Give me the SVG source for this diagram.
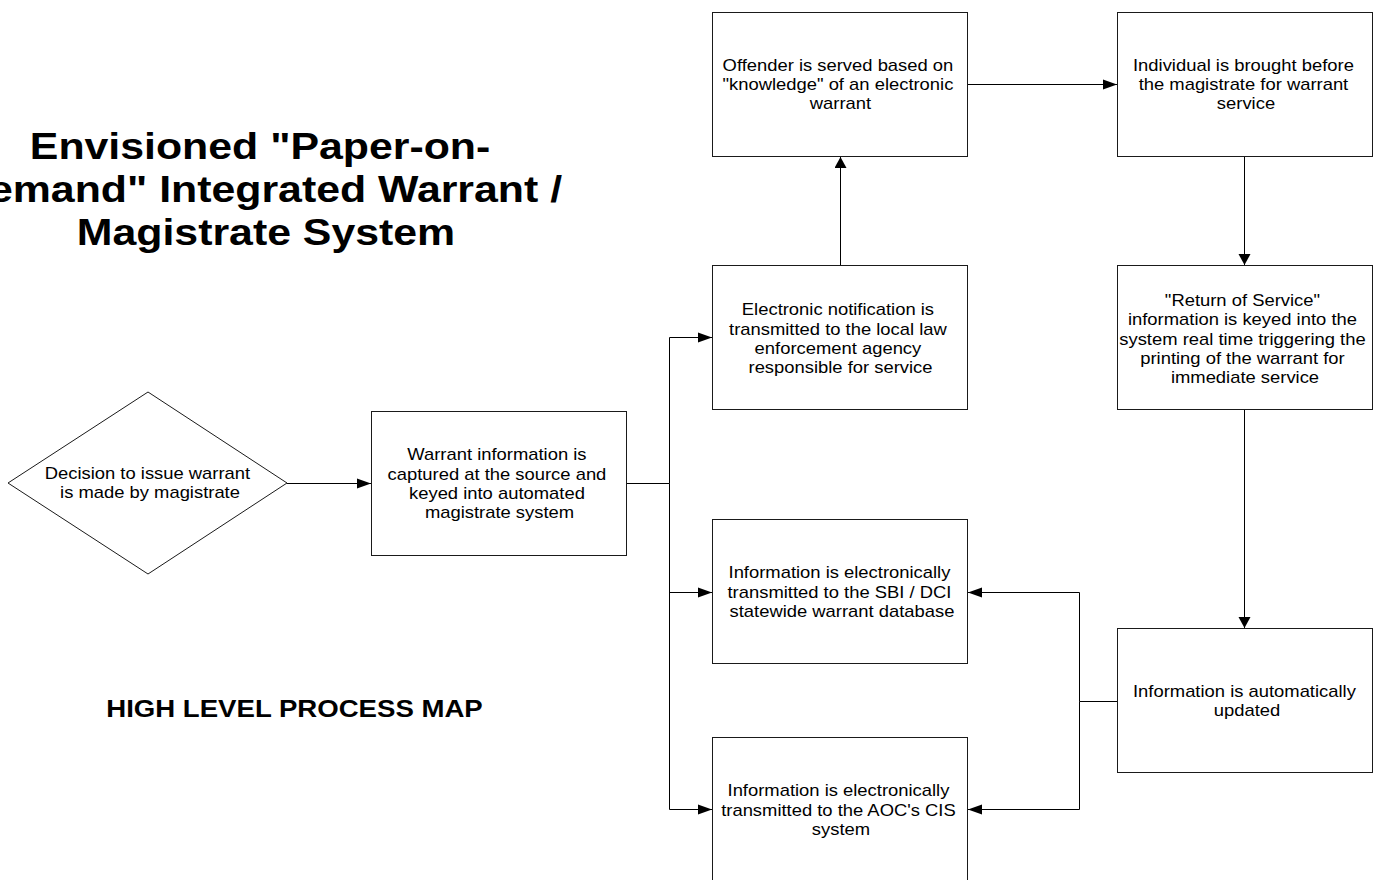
<svg xmlns="http://www.w3.org/2000/svg" width="1375" height="880" viewBox="0 0 1375 880">
  <style>
    .box { fill: #ffffff; stroke: #1a1a1a; stroke-width: 1; }
    .wire { fill: none; stroke: #000000; stroke-width: 1; }
    .lbl { font-family: "Liberation Sans", Arial, sans-serif; font-size: 16px; fill: #000000; text-anchor: middle; }
    .title { font-family: "Liberation Sans", Arial, sans-serif; font-size: 36px; font-weight: bold; fill: #000000; text-anchor: middle; }
    .sub { font-family: "Liberation Sans", Arial, sans-serif; font-size: 23px; font-weight: bold; fill: #000000; text-anchor: middle; }
  </style>
  <defs>
    <marker id="arrowH" markerUnits="userSpaceOnUse" markerWidth="15" markerHeight="12" refX="14" refY="5.5" orient="auto">
      <path d="M0,0.5 L14,5.5 L0,10.5 Z" fill="#000000"/>
    </marker>
    <marker id="arrowV" markerUnits="userSpaceOnUse" markerWidth="12" markerHeight="13" refX="11" refY="6" orient="auto">
      <path d="M0,0 L11,6 L0,12 Z" fill="#000000"/>
    </marker>
  </defs>

  <rect width="1375" height="880" fill="#ffffff"/>

  <!-- heading -->
  <g id="heading">
    <text class="title" transform="translate(266,0) scale(1.19 1)">
      <tspan x="0" y="159.5">Envisioned "Paper-on-</tspan>
      <tspan x="0" y="202.5">Demand" Integrated Warrant /</tspan>
      <tspan x="0" y="245.5">Magistrate System</tspan>
    </text>
  </g>
  <g id="subheading">
    <text class="sub" transform="translate(294.5,717) scale(1.2 1)" x="0" y="0">HIGH LEVEL PROCESS MAP</text>
  </g>

  <!-- connectors -->
  <g id="connectors">
    <path class="wire" d="M287,483.5 H371" marker-end="url(#arrowH)"/>
    <path class="wire" d="M627,483.5 H669.5 V337.5"/>
    <path class="wire" d="M669.5,483.5 V809.5"/>
    <path class="wire" d="M669.5,337.5 H712" marker-end="url(#arrowH)"/>
    <path class="wire" d="M669.5,592.5 H712" marker-end="url(#arrowH)"/>
    <path class="wire" d="M669.5,809.5 H712" marker-end="url(#arrowH)"/>
    <path class="wire" d="M840.5,265 V157" marker-end="url(#arrowV)"/>
    <path class="wire" d="M968,84.5 H1117" marker-end="url(#arrowH)"/>
    <path class="wire" d="M1244.5,157 V265" marker-end="url(#arrowV)"/>
    <path class="wire" d="M1244.5,410 V628" marker-end="url(#arrowV)"/>
    <path class="wire" d="M1117,701.5 H1079.5 V592.5 H968" marker-end="url(#arrowH)"/>
    <path class="wire" d="M1079.5,701.5 V809.5 H968" marker-end="url(#arrowH)"/>
  </g>

  <!-- decision -->
  <g id="decision">
    <path class="box" d="M148,392 L287,483 L148,574 L8,483 Z"/>
    <text class="lbl" transform="translate(150,0) scale(1.15 1)">
      <tspan x="0" y="479.5">Decision to issue warrant</tspan>
      <tspan x="0" y="498.5">is made by magistrate</tspan>
    </text>
  </g>

  <g id="capture">
    <rect class="box" x="371.5" y="411.5" width="255" height="144"/>
    <text class="lbl" transform="translate(499.5,0) scale(1.15 1)">
      <tspan x="0" y="460.5">Warrant information is</tspan>
      <tspan x="0" y="479.7">captured at the source and</tspan>
      <tspan x="0" y="498.9">keyed into automated</tspan>
      <tspan x="0" y="518.1">magistrate system</tspan>
    </text>
  </g>

  <g id="notify">
    <rect class="box" x="712.5" y="265.5" width="255" height="144"/>
    <text class="lbl" transform="translate(840.5,0) scale(1.15 1)">
      <tspan x="0" y="315.4">Electronic notification is</tspan>
      <tspan x="0" y="334.6">transmitted to the local law</tspan>
      <tspan x="0" y="353.8">enforcement agency</tspan>
      <tspan x="0" y="373">responsible for service</tspan>
    </text>
  </g>

  <g id="served">
    <rect class="box" x="712.5" y="12.5" width="255" height="144"/>
    <text class="lbl" transform="translate(840.5,0) scale(1.15 1)">
      <tspan x="0" y="71">Offender is served based on</tspan>
      <tspan x="0" y="90.2">"knowledge" of an electronic</tspan>
      <tspan x="0" y="109.4">warrant</tspan>
    </text>
  </g>

  <g id="brought">
    <rect class="box" x="1117.5" y="12.5" width="255" height="144"/>
    <text class="lbl" transform="translate(1246,0) scale(1.15 1)">
      <tspan x="0" y="71">Individual is brought before</tspan>
      <tspan x="0" y="90.2">the magistrate for warrant</tspan>
      <tspan x="0" y="109.4">service</tspan>
    </text>
  </g>

  <g id="return">
    <rect class="box" x="1117.5" y="265.5" width="255" height="144"/>
    <text class="lbl" transform="translate(1245,0) scale(1.15 1)">
      <tspan x="0" y="306.3">"Return of Service"</tspan>
      <tspan x="0" y="325.5">information is keyed into the</tspan>
      <tspan x="0" y="344.7">system real time triggering the</tspan>
      <tspan x="0" y="363.9">printing of the warrant for</tspan>
      <tspan x="0" y="383.1">immediate service</tspan>
    </text>
  </g>

  <g id="sbi">
    <rect class="box" x="712.5" y="519.5" width="255" height="144"/>
    <text class="lbl" transform="translate(842,0) scale(1.15 1)">
      <tspan x="0" y="578.5">Information is electronically</tspan>
      <tspan x="0" y="597.7">transmitted to the SBI / DCI</tspan>
      <tspan x="0" y="616.9">statewide warrant database</tspan>
    </text>
  </g>

  <g id="aoc">
    <rect class="box" x="712.5" y="737.5" width="255" height="144"/>
    <text class="lbl" transform="translate(841,0) scale(1.15 1)">
      <tspan x="0" y="796.5">Information is electronically</tspan>
      <tspan x="0" y="815.7">transmitted to the AOC's CIS</tspan>
      <tspan x="0" y="834.9">system</tspan>
    </text>
  </g>

  <g id="updated">
    <rect class="box" x="1117.5" y="628.5" width="255" height="144"/>
    <text class="lbl" transform="translate(1247,0) scale(1.15 1)">
      <tspan x="0" y="696.6">Information is automatically</tspan>
      <tspan x="0" y="715.8">updated</tspan>
    </text>
  </g>
</svg>
